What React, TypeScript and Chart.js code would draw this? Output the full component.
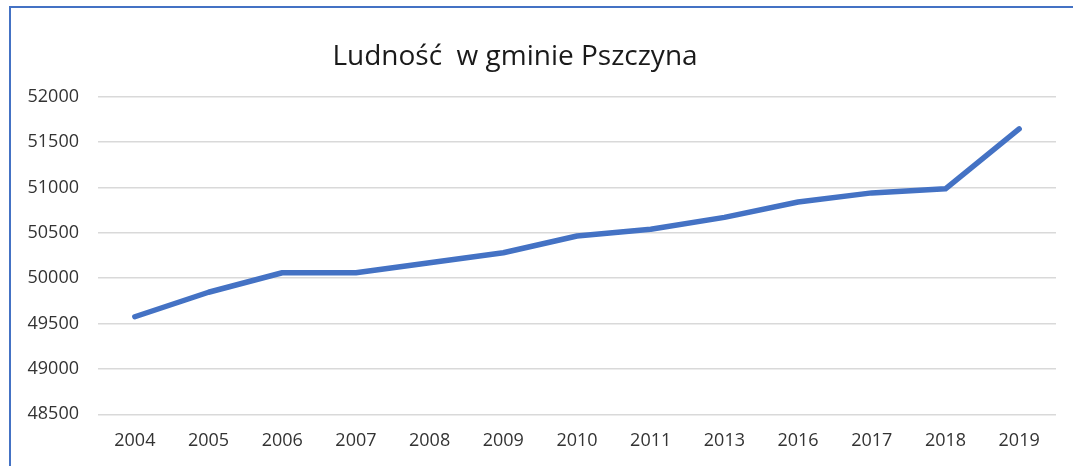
import React, { useEffect, useRef } from "react";
import { Chart, registerables } from "chart.js";

Chart.register(...registerables);

const TITLE = "Ludność  w gminie Pszczyna";
const YEARS = ["2004", "2005", "2006", "2007", "2008", "2009", "2010", "2011", "2013", "2016", "2017", "2018", "2019"];
const POPULATION = [49575, 49845, 50060, 50060, 50170, 50280, 50465, 50540, 50670, 50840, 50940, 50985, 51645];
const Y_MIN = 48500;
const Y_MAX = 52000;
const Y_STEP = 500;

const W = 1073;
const H = 466;

const titlePlugin = {
  id: "customTitle",
  afterDraw(chart: any) {
    const ctx = chart.ctx;
    ctx.save();
    ctx.font = "28px 'Open Sans'";
    ctx.fillStyle = "#1a1a1a";
    ctx.textAlign = "center";
    ctx.textBaseline = "middle";
    ctx.fillText(TITLE, 515, 57);
    ctx.restore();
  },
};

export default function App() {
  const ref = useRef<HTMLCanvasElement>(null);
  useEffect(() => {
    if (!ref.current) return;
    const chart = new Chart(ref.current, {
      type: "line",
      data: {
        labels: YEARS,
        datasets: [
          {
            data: POPULATION,
            borderColor: "#4472C4",
            borderWidth: 5.5,
            borderCapStyle: "round",
            borderJoinStyle: "round",
            pointRadius: 0,
            tension: 0,
            fill: false,
          },
        ],
      },
      options: {
        responsive: false,
        animation: false,
        layout: { padding: { top: 96.7, right: 17, bottom: 0, left: 0 } },
        plugins: {
          legend: { display: false },
          title: { display: false },
          tooltip: { enabled: false },
        },
        scales: {
          x: {
            offset: true,
            grid: { display: false, drawTicks: false },
            border: { display: false },
            ticks: {
              color: "#333333",
              font: { family: "'Open Sans'", size: 18 },
              padding: 16,
              maxRotation: 0,
              autoSkip: false,
            },
            afterFit: (s: any) => {
              s.height = H - 414.3;
            },
          },
          y: {
            min: Y_MIN,
            max: Y_MAX,
            grid: { color: "#d9d9d9", lineWidth: 1.5, drawTicks: false },
            border: { display: false },
            ticks: {
              stepSize: Y_STEP,
              color: "#333333",
              font: { family: "'Open Sans'", size: 18 },
              padding: 19,
              callback: (v: any) => String(v),
            },
            afterFit: (s: any) => {
              s.width = 98;
            },
          },
        },
      },
      plugins: [titlePlugin],
    });
    return () => chart.destroy();
  }, []);

  return (
    <div style={{ position: "fixed", left: 0, top: 0, width: W, height: H, background: "#fff", overflow: "hidden" }}>
      <div
        style={{
          position: "absolute",
          left: 9,
          top: 6,
          width: W + 20,
          height: H + 20,
          borderTop: "2px solid #4472C4",
          borderLeft: "2px solid #4472C4",
          boxSizing: "border-box",
        }}
      />
      <canvas ref={ref} width={W} height={H} style={{ position: "absolute", left: 0, top: 0, width: W, height: H }} />
    </div>
  );
}
